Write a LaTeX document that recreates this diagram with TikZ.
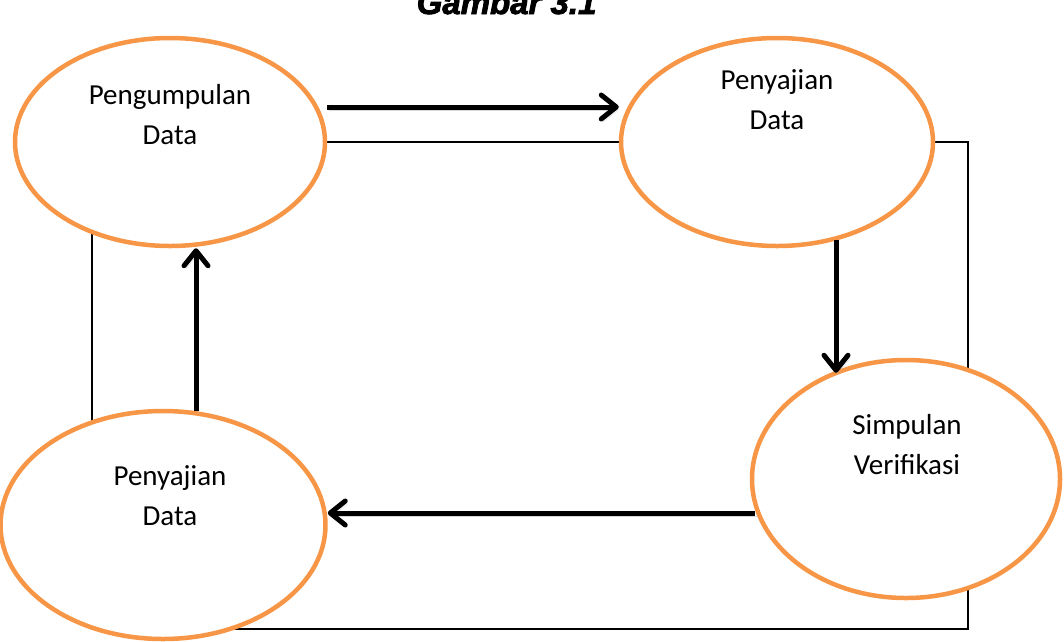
\documentclass[tikz,border=0pt]{standalone}
\usepackage{fontspec}
\setmainfont{Carlito}
\newfontfamily\titlefont{Liberation Sans}[BoldItalicFeatures={FakeBold=2.5}]
\usetikzlibrary{shapes.geometric,arrows.meta,backgrounds}
\definecolor{stageorange}{HTML}{F79646}

\tikzset{
  stage/.style={ellipse, draw=stageorange, line width=4.5pt, fill=white, inner sep=0pt},
  stagetext/.style={align=center, font=\fontsize{29}{40}\selectfont},
  flow/.style={line width=5pt, -{Straight Barb[length=15pt,width=24pt,round]},
    preaction={draw=black!30, opacity=0.5, transform canvas={xshift=2pt,yshift=-3pt}}},
  frame/.style={draw=black, line width=1.5pt}
}

\begin{document}
\begin{tikzpicture}[x=1pt,y=-1pt]
  \useasboundingbox (0,0) rectangle (1064,641);

  \node (title) [anchor=base east, font=\titlefont\bfseries\itshape\fontsize{33}{33}\selectfont] at (600,14) {Gambar 3.1};

  \node (kumpul) [stage, minimum width=310pt, minimum height=208pt] at (170,142) {};
  \node (saji) [stage, minimum width=312pt, minimum height=208pt] at (777,142) {};
  \node (simpul) [stage, minimum width=308pt, minimum height=238pt] at (906,479) {};
  \node (sajibawah) [stage, minimum width=325pt, minimum height=228pt] at (163,525) {};

  \node (kumpultext) [stagetext] at (170,115) {Pengumpulan\\Data};
  \node (sajitext) [stagetext] at (777,100) {Penyajian\\Data};
  \node (simpultext) [stagetext] at (907,445) {Simpulan\\Verifikasi};
  \node (sajibawahtext) [stagetext] at (170,496) {Penyajian\\Data};

  \draw [flow] ([yshift=35pt]kumpul.east) -- ([yshift=35pt]kumpul.east -| saji.west);
  \draw [flow] ([xshift=59pt,yshift=8pt]saji.south) -- ([xshift=-70pt,yshift=-15pt]simpul.north);
  \draw [flow] ([xshift=5pt,yshift=-34pt]simpul.west) -- ([yshift=-34pt]simpul.west -| sajibawah.east);
  \draw [flow] ([xshift=33pt,yshift=-2pt]sajibawah.north) -- ([xshift=33pt]sajibawah.north |- kumpul.south);

  % frame behind the stages
  \begin{scope}[on background layer]
    \coordinate (framenw) at (92,142);
    \coordinate (framese) at (968,629);
    \draw [frame] (framenw) rectangle (framese);
  \end{scope}

\end{tikzpicture}
\end{document}
